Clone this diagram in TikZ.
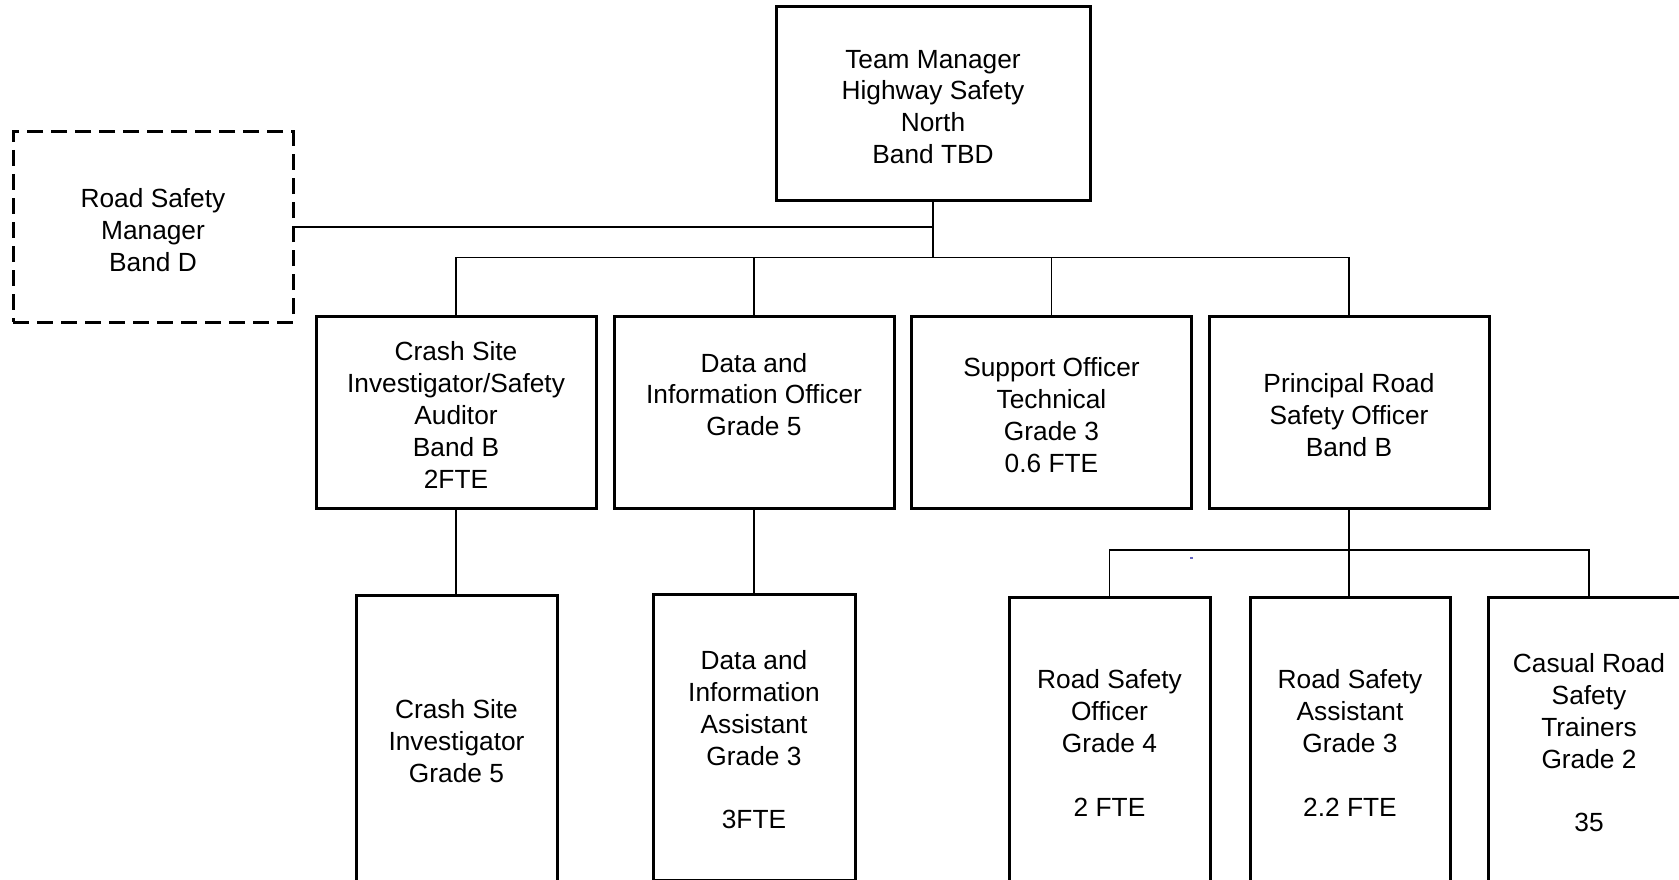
\documentclass[tikz,border=0pt]{standalone}
\usepackage{fontspec}
\setmainfont{Liberation Sans}
\newcommand\tp{\rule{0pt}{25pt}}
\begin{document}
\begin{tikzpicture}[x=1pt,y=-1pt,
  box/.style={draw=black,line width=3pt,fill=white,align=center,inner sep=0pt,
    font=\fontsize{26.3pt}{31.8pt}\selectfont},
  dbox/.style={box,dash pattern=on 16pt off 8pt},
  conn/.style={draw=black,line width=1.5pt}]
\clip (0,0) rectangle (1679,880);
\fill[white] (0,0) rectangle (1679,880);

% top
\node[box,minimum width=314pt,minimum height=193pt] (tm) at (933,103.5)
  {\tp Team Manager\\Highway Safety\\North\\Band TBD};
\node[dbox,minimum width=280pt,minimum height=190pt] (rsm) at (153,227)
  {\tp Road Safety\\Manager\\Band D};

% level 2
\node[box,minimum width=280pt,minimum height=192pt] (b1) at (456,412)
  {\tp Crash Site\\Investigator/Safety\\Auditor\\Band B\\2FTE};
\node[box,minimum width=280pt,minimum height=192pt] (b2) at (754,412)
  {\tp Data and\\Information Officer\\Grade 5\\\strut};
\node[box,minimum width=280pt,minimum height=192pt] (b3) at (1051.5,412)
  {\tp Support Officer\\Technical\\Grade 3\\0.6 FTE};
\node[box,minimum width=280pt,minimum height=192pt] (b4) at (1349,412)
  {\tp Principal Road\\Safety Officer\\Band B};

% level 3
\node[box,minimum width=201pt,minimum height=286pt] (c1) at (456.5,738)
  {\tp Crash Site\\Investigator\\Grade 5};
\node[box,minimum width=202pt,minimum height=286pt] (c2) at (754,737)
  {\tp Data and\\Information\\Assistant\\Grade 3\\\mbox{}\\3FTE};
\node[box,minimum width=201pt,minimum height=286pt] (r1) at (1109.5,740)
  {\tp Road Safety\\Officer\\Grade 4\\\mbox{}\\2 FTE};
\node[box,minimum width=200pt,minimum height=286pt] (r2) at (1350,740)
  {\tp Road Safety\\Assistant\\Grade 3\\\mbox{}\\2.2 FTE};
\node[box,minimum width=202pt,minimum height=286pt] (r3) at (1589,740)
  {\tp Casual Road\\Safety\\Trainers\\Grade 2\\\mbox{}\\35};

% connectors
\coordinate (bus) at (0,257.5);
\coordinate (bus2) at (0,550);
\draw[conn] (tm.south) -- (tm.south |- bus);
\draw[conn] (rsm.east) -- (rsm.east -| tm.south);
\draw[conn] (b1.north) -- (b1.north |- bus) -- (b4.north |- bus) -- (b4.north);
\draw[conn] (b2.north) -- (b2.north |- bus);
\draw[conn] (b3.north) -- (b3.north |- bus);
\draw[conn] (b1.south) -- (c1.north -| b1.south);
\draw[conn] (b2.south) -- (c2.north -| b2.south);
\draw[conn] (b4.south) -- (r2.north -| b4.south);
\draw[conn] (r1.north) -- (r1.north |- bus2) -- (r3.north |- bus2) -- (r3.north);
\coordinate (blip) at (1190,558);
\draw[draw=blue!60!black!60,line width=1.5pt] (blip) -- ++(3,0);
\end{tikzpicture}
\end{document}
